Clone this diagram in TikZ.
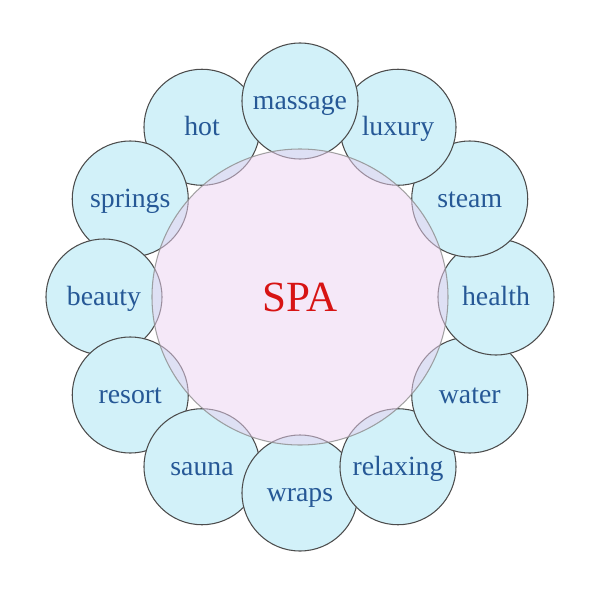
\documentclass[tikz,border=0pt]{standalone}
\usepackage{fontspec}
\setmainfont{Liberation Serif}

\definecolor{petalcyan}{RGB}{210,241,249}
\definecolor{hubpink}{RGB}{235,209,241}
\definecolor{wordblue}{RGB}{38,88,150}
\definecolor{titlered}{RGB}{215,20,20}

\tikzset{
	petal/.style={circle, draw=black!70, line width=0.6pt, fill=petalcyan, minimum size=2.32cm, inner sep=0pt, text height=9.4pt, text depth=0pt, text=wordblue, font=\fontsize{15.8}{18}\selectfont},
	hub/.style={circle, draw=black!45, draw opacity=0.8, line width=0.6pt, fill=hubpink, fill opacity=0.5, text opacity=1, minimum size=5.92cm, inner sep=0pt, text depth=0pt, text=titlered, font=\fontsize{24.5}{28}\selectfont}
}

\begin{document}
\begin{tikzpicture}
	
	\useasboundingbox (-6,-6.06) rectangle (6,5.94);
	
	\foreach \ang/\word in {120/hot, 150/springs, 180/beauty, 210/resort, 240/sauna, 270/wraps, 300/relaxing, 330/water, 0/health, 30/steam, 60/luxury, 90/massage}
		\node [petal] (\word) at (\ang:3.92) {\word};
	
	\node [hub] (spa) at (0,0) {SPA};
	
\end{tikzpicture}
\end{document}
